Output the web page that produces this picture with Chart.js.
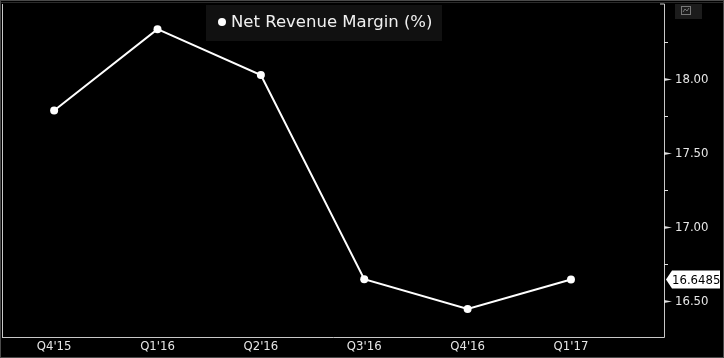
<!DOCTYPE html>
<html><head><meta charset="utf-8">
<script src="https://cdn.jsdelivr.net/npm/chart.js@4/dist/chart.umd.min.js"></script>
<style>html,body{margin:0;padding:0;background:#000;}canvas{display:block;}</style>
</head><body>
<canvas id="c" width="724" height="358"></canvas>
<script>
const categories = ["Q4'15", "Q1'16", "Q2'16", "Q3'16", "Q4'16", "Q1'17"];
const marginValues = [17.79, 18.34, 18.03, 16.65, 16.45, 16.6485];
const seriesLabel = "Net Revenue Margin (%)";
const yMajorTicks = [16.5, 17.0, 17.5, 18.0];
const yMinorTicks = [16.75, 17.25, 17.75, 18.25];
const lastValueLabel = "16.6485";

const FONT = "'DejaVu Sans Condensed', 'DejaVu Sans', sans-serif";

const framePlugin = {
  id: 'frame',
  beforeDraw(chart) {
    const ctx = chart.ctx;
    ctx.save();
    ctx.fillStyle = '#000';
    ctx.fillRect(0, 0, chart.width, chart.height);
    ctx.restore();
  },
  afterDraw(chart) {
    const ctx = chart.ctx, a = chart.chartArea, y = chart.scales.y;
    ctx.save();
    // outer frame
    ctx.strokeStyle = '#4a4a4a'; ctx.lineWidth = 1;
    ctx.strokeRect(0.5, 0.5, chart.width - 1, chart.height - 1);
    ctx.strokeStyle = '#2a2a2a';
    ctx.beginPath(); ctx.moveTo(1, 2.5); ctx.lineTo(chart.width - 1, 2.5); ctx.stroke();
    // plot frame
    ctx.strokeStyle = '#c8c8c8';
    ctx.beginPath();
    ctx.moveTo(2.5, a.top); ctx.lineTo(2.5, a.bottom + 0.5);
    ctx.moveTo(2, a.bottom + 0.5); ctx.lineTo(a.right + 0.5, a.bottom + 0.5);
    ctx.lineTo(a.right + 0.5, a.top);
    ctx.lineTo(a.right - 4, a.top);
    ctx.stroke();
    // y ticks
    ctx.strokeStyle = '#e0e0e0'; ctx.fillStyle = '#e0e0e0';
    yMinorTicks.forEach(v => {
      const py = Math.round(y.getPixelForValue(v)) + 0.5;
      ctx.beginPath(); ctx.moveTo(a.right, py); ctx.lineTo(a.right + 4, py); ctx.stroke();
    });
    yMajorTicks.forEach(v => {
      const py = Math.round(y.getPixelForValue(v)) + 0.5;
      ctx.beginPath();
      ctx.moveTo(a.right, py - 1.5); ctx.lineTo(a.right + 8, py); ctx.lineTo(a.right, py + 1.5);
      ctx.closePath(); ctx.fill();
    });
    // last value tag
    const lv = marginValues[marginValues.length - 1];
    const ly = y.getPixelForValue(lv);
    const x0 = a.right + 2, x1 = chart.width - 4;
    ctx.fillStyle = '#ffffff';
    ctx.beginPath();
    ctx.moveTo(x0, ly);
    ctx.lineTo(x0 + 6, ly - 9); ctx.lineTo(x1, ly - 9);
    ctx.lineTo(x1, ly + 9); ctx.lineTo(x0 + 6, ly + 9);
    ctx.closePath(); ctx.fill();
    ctx.fillStyle = '#000';
    ctx.font = '13px ' + FONT;
    ctx.textBaseline = 'middle'; ctx.textAlign = 'left';
    ctx.fillText(lastValueLabel, x0 + 6, ly + 1);
    // legend
    ctx.fillStyle = '#111111';
    ctx.fillRect(206, 5, 236, 36);
    ctx.fillStyle = '#ffffff';
    ctx.beginPath(); ctx.arc(222, 22, 4, 0, Math.PI * 2); ctx.fill();
    ctx.font = '16.5px ' + "'DejaVu Sans', sans-serif";
    ctx.fillStyle = '#f0f0f0';
    ctx.textBaseline = 'middle';
    ctx.fillText(chart.data.datasets[0].label, 231, 23);
    // small icon
    ctx.fillStyle = '#1c1c1c';
    ctx.fillRect(675, 4, 27, 15);
    ctx.strokeStyle = '#777';
    ctx.strokeRect(681.5, 6.5, 9, 8);
    ctx.beginPath(); ctx.moveTo(683, 12); ctx.lineTo(685, 9); ctx.lineTo(687, 11); ctx.lineTo(689, 8); ctx.stroke();
    ctx.restore();
  }
};

new Chart(document.getElementById('c'), {
  type: 'line',
  data: {
    datasets: [{
      label: seriesLabel,
      data: marginValues.map((v, i) => ({ x: i, y: v })),
      borderColor: '#ffffff',
      backgroundColor: '#ffffff',
      borderWidth: 2,
      pointRadius: 4,
      pointBackgroundColor: '#ffffff',
      pointBorderWidth: 0,
      tension: 0
    }]
  },
  options: {
    responsive: false,
    animation: false,
    layout: { padding: { left: 3, top: 4, right: 0, bottom: 0 } },
    plugins: { legend: { display: false }, tooltip: { enabled: false } },
    scales: {
      x: {
        type: 'linear',
        min: -0.485,
        max: 5.9,
        afterBuildTicks(s) { s.ticks = categories.map((c, i) => ({ value: i })); },
        afterFit(s) { s.height = 21; s.paddingLeft = 0; s.paddingRight = 0; },
        ticks: {
          color: '#e6e6e6',
          font: { family: FONT, size: 13 },
          padding: 2,
          maxRotation: 0,
          autoSkip: false,
          callback: (v) => categories[v] ?? ''
        },
        grid: { display: false, drawTicks: false },
        border: { display: false }
      },
      y: {
        position: 'right',
        min: 16.26,
        max: 18.51,
        afterBuildTicks(s) { s.ticks = yMajorTicks.map(v => ({ value: v })); },
        afterFit(s) { s.width = 60; s.paddingTop = 0; s.paddingBottom = 0; },
        ticks: {
          color: '#e6e6e6',
          font: { family: FONT, size: 13 },
          padding: 11,
          callback: (v) => Number(v).toFixed(2)
        },
        grid: { display: false, drawTicks: false },
        border: { display: false }
      }
    }
  },
  plugins: [framePlugin]
});
</script>
</body></html>
